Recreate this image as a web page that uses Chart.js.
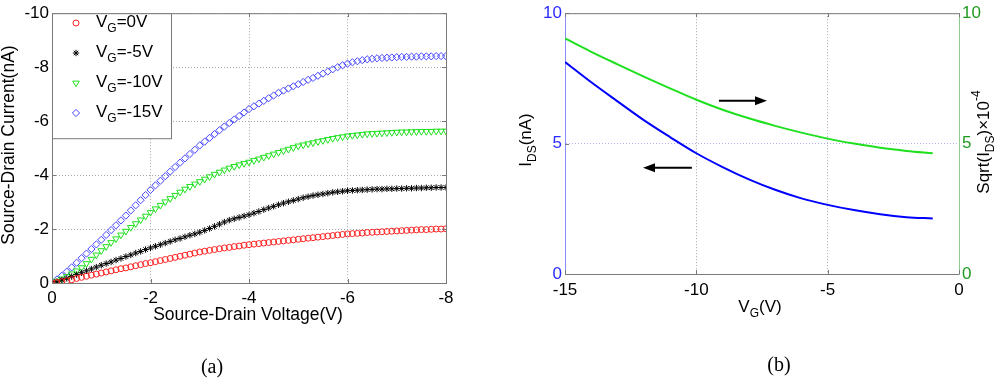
<!DOCTYPE html>
<html>
<head>
<meta charset="utf-8">
<script src="https://cdn.jsdelivr.net/npm/chart.js@4.4.1/dist/chart.umd.min.js"></script>
<style>
  html, body { margin: 0; padding: 0; background: #fff; }
  #wrap { position: relative; width: 1000px; height: 379px; }
  canvas { position: absolute; top: 0; }
  #ivChart { left: 0; }
  #tfChart { left: 500px; }
</style>
</head>
<body>
<div id="wrap">
  <canvas id="ivChart" width="500" height="379"></canvas>
  <canvas id="tfChart" width="500" height="379"></canvas>
</div>
<script>
  /* ---------- data: panel (a), output curves ---------- */
  const vds = [0,-0.1,-0.2,-0.3,-0.4,-0.5,-0.6,-0.7,-0.8,-0.9,-1,-1.1,-1.2,-1.3,-1.4,-1.5,-1.6,-1.7,-1.8,-1.9,
    -2,-2.1,-2.2,-2.3,-2.4,-2.5,-2.6,-2.7,-2.8,-2.9,-3,-3.1,-3.2,-3.3,-3.4,-3.5,-3.6,-3.7,-3.8,-3.9,
    -4,-4.1,-4.2,-4.3,-4.4,-4.5,-4.6,-4.7,-4.8,-4.9,-5,-5.1,-5.2,-5.3,-5.4,-5.5,-5.6,-5.7,-5.8,-5.9,
    -6,-6.1,-6.2,-6.3,-6.4,-6.5,-6.6,-6.7,-6.8,-6.9,-7,-7.1,-7.2,-7.3,-7.4,-7.5,-7.6,-7.7,-7.8,-7.9,-8];

  const idVg0 = [0,-0.02,-0.05,-0.08,-0.12,-0.17,-0.21,-0.25,-0.29,-0.33,-0.37,-0.41,-0.45,-0.49,-0.53,-0.56,-0.60,-0.64,-0.68,-0.72,
    -0.75,-0.79,-0.83,-0.87,-0.91,-0.95,-0.99,-1.03,-1.07,-1.11,-1.15,-1.18,-1.21,-1.24,-1.27,-1.30,-1.32,-1.35,-1.37,-1.40,
    -1.42,-1.44,-1.46,-1.48,-1.50,-1.52,-1.54,-1.56,-1.58,-1.60,-1.62,-1.64,-1.66,-1.68,-1.70,-1.72,-1.74,-1.76,-1.78,-1.80,
    -1.82,-1.83,-1.84,-1.85,-1.87,-1.88,-1.89,-1.90,-1.91,-1.92,-1.93,-1.94,-1.95,-1.96,-1.97,-1.98,-1.98,-1.99,-2.00,-2.00,-2.01];

  const idVg5 = [0,-0.05,-0.11,-0.17,-0.24,-0.31,-0.38,-0.45,-0.52,-0.59,-0.66,-0.72,-0.78,-0.85,-0.91,-0.98,-1.04,-1.11,-1.17,-1.24,
    -1.30,-1.36,-1.42,-1.48,-1.54,-1.60,-1.65,-1.71,-1.77,-1.82,-1.88,-1.95,-2.02,-2.10,-2.18,-2.26,-2.33,-2.38,-2.43,-2.48,
    -2.53,-2.59,-2.65,-2.72,-2.78,-2.84,-2.90,-2.96,-3.01,-3.06,-3.11,-3.16,-3.20,-3.24,-3.27,-3.30,-3.33,-3.36,-3.38,-3.40,
    -3.42,-3.43,-3.44,-3.45,-3.46,-3.47,-3.48,-3.48,-3.49,-3.49,-3.50,-3.50,-3.51,-3.51,-3.52,-3.52,-3.53,-3.53,-3.54,-3.54,-3.54];

  const idVg10 = [0,-0.07,-0.15,-0.24,-0.34,-0.45,-0.57,-0.72,-0.88,-1.04,-1.20,-1.35,-1.50,-1.64,-1.78,-1.92,-2.06,-2.20,-2.34,-2.48,
    -2.62,-2.75,-2.88,-3.01,-3.13,-3.25,-3.37,-3.48,-3.58,-3.67,-3.76,-3.85,-3.94,-4.03,-4.11,-4.19,-4.26,-4.32,-4.38,-4.43,
    -4.48,-4.54,-4.60,-4.66,-4.72,-4.78,-4.84,-4.90,-4.96,-5.02,-5.08,-5.12,-5.16,-5.20,-5.24,-5.28,-5.32,-5.36,-5.39,-5.42,
    -5.45,-5.47,-5.49,-5.51,-5.53,-5.54,-5.55,-5.56,-5.57,-5.58,-5.59,-5.60,-5.60,-5.61,-5.61,-5.62,-5.62,-5.62,-5.63,-5.63,-5.63];

  const idVg15 = [0,-0.13,-0.27,-0.42,-0.58,-0.75,-0.92,-1.09,-1.26,-1.43,-1.60,-1.78,-1.96,-2.14,-2.32,-2.50,-2.69,-2.88,-3.07,-3.26,
    -3.45,-3.62,-3.79,-3.96,-4.13,-4.30,-4.46,-4.62,-4.78,-4.94,-5.10,-5.24,-5.38,-5.52,-5.66,-5.80,-5.93,-6.06,-6.19,-6.32,
    -6.45,-6.55,-6.65,-6.75,-6.85,-6.95,-7.05,-7.13,-7.21,-7.29,-7.37,-7.45,-7.53,-7.60,-7.68,-7.76,-7.84,-7.92,-8.00,-8.07,
    -8.13,-8.18,-8.22,-8.26,-8.29,-8.31,-8.33,-8.34,-8.35,-8.36,-8.37,-8.38,-8.38,-8.39,-8.39,-8.40,-8.40,-8.40,-8.41,-8.41,-8.41];

  const seriesA = ['V_G=0V', 'V_G=-5V', 'V_G=-10V', 'V_G=-15V'];

  /* ---------- data: panel (b), transfer curve ---------- */
  const vg = [-15,-14,-13,-12,-11,-10,-9,-8,-7,-6,-5,-4,-3,-2,-1];
  const ids = [8.13,7.35,6.62,5.90,5.25,4.63,4.10,3.63,3.23,2.90,2.65,2.45,2.29,2.18,2.13];
  const sqrtIds = [9.03,8.52,8.04,7.57,7.12,6.68,6.30,5.97,5.68,5.42,5.19,5.00,4.84,4.72,4.63];
  // arrows in data units of the left axis: [xFrom, xTo, y]
  const arrowsB = [[-10.17, -12.03, 4.07], [-9.14, -7.31, 6.64]];

  const FONT = '"Liberation Sans", Arial, sans-serif';
  const tickFont = { family: FONT, size: 17 };

  // text with sub/superscripts: parts = [[text, 0|1|2]], 1 = sub, 2 = sup
  function richText(ctx, parts, x, y, size, opts = {}) {
    ctx.save();
    ctx.translate(x, y);
    if (opts.rot) ctx.rotate(opts.rot);
    ctx.fillStyle = opts.color || '#000';
    ctx.textBaseline = 'middle';
    ctx.textAlign = 'left';
    const fonts = parts.map(p => (p[1] ? Math.round(size * 0.72) : size) + 'px ' + FONT);
    let w = 0;
    parts.forEach((p, i) => { ctx.font = fonts[i]; w += ctx.measureText(p[0]).width; });
    let cx = opts.left ? 0 : -w / 2;
    parts.forEach((p, i) => {
      ctx.font = fonts[i];
      const dy = p[1] === 1 ? size * 0.38 : p[1] === 2 ? -size * 0.42 : 0;
      ctx.fillText(p[0], cx, dy);
      cx += ctx.measureText(p[0]).width;
    });
    ctx.restore();
  }

  function innerTicks(ctx, chart, color, sides) {
    const a = chart.chartArea, sx = chart.scales.x, sy = chart.scales.y;
    ctx.save();
    ctx.strokeStyle = color;
    ctx.lineWidth = 1;
    ctx.beginPath();
    sx.ticks.forEach(t => {
      const p = Math.round(sx.getPixelForValue(t.value)) + 0.5;
      ctx.moveTo(p, a.bottom); ctx.lineTo(p, a.bottom - 4);
      if (sides.top) { ctx.moveTo(p, a.top); ctx.lineTo(p, a.top + 4); }
    });
    sy.ticks.forEach(t => {
      const p = Math.round(sy.getPixelForValue(t.value)) + 0.5;
      ctx.moveTo(a.left, p); ctx.lineTo(a.left + 4, p);
      if (sides.right) { ctx.moveTo(a.right, p); ctx.lineTo(a.right - 4, p); }
    });
    ctx.stroke();
    ctx.restore();
  }

  Chart.defaults.font.family = FONT;
  Chart.defaults.color = '#000';

  /* ---------- panel (a) ---------- */
  const markA = [
    { color: '#ff2020', style: 'circle', radius: 3, rotation: 0, data: idVg0 },
    { color: '#000000', style: 'star', radius: 3.2, rotation: 0, data: idVg5 },
    { color: '#20e020', style: 'triangle', radius: 3.8, rotation: 180, data: idVg10 },
    { color: '#4646ff', style: 'rectRot', radius: 3.6, rotation: 0, data: idVg15 }
  ];

  const frameA = {
    id: 'frameA',
    afterDraw(chart) {
      const ctx = chart.ctx, a = chart.chartArea;
      ctx.save();
      ctx.strokeStyle = '#7a7a7a';
      ctx.lineWidth = 1;
      ctx.strokeRect(a.left + 0.5, a.top + 0.5, a.right - a.left, a.bottom - a.top);
      ctx.restore();
      innerTicks(ctx, chart, '#7a7a7a', { top: true, right: true });

      // legend
      const lx = a.left, ly = a.top, lw = 119, lh = 125;
      ctx.save();
      ctx.fillStyle = '#fff';
      ctx.fillRect(lx + 0.5, ly + 0.5, lw, lh);
      ctx.strokeStyle = '#7a7a7a';
      ctx.strokeRect(lx + 0.5, ly + 0.5, lw, lh);
      ctx.restore();
      const rowY = [23, 53, 83, 113];
      markA.forEach((m, i) => {
        ctx.save();
        ctx.strokeStyle = m.color;
        ctx.fillStyle = 'rgba(0,0,0,0)';
        ctx.lineWidth = 1;
        Chart.helpers.drawPoint(ctx, { pointStyle: m.style, radius: m.radius, rotation: m.rotation, borderWidth: 1 }, 76, rowY[i]);
        ctx.restore();
        const lab = seriesA[i].split('_');
        const rest = lab[1].slice(1);
        richText(ctx, [[lab[0], 0], ['G', 1], [rest, 0]], 96, rowY[i] - 1, 17, { left: true });
      });

      richText(ctx, [['Source-Drain Current(nA)', 0]], 9, 145, 17.5, { rot: -Math.PI / 2 });
      richText(ctx, [['Source-Drain Voltage(V)', 0]], 248, 315, 17.5);
      ctx.save();
      ctx.fillStyle = '#000';
      ctx.font = '20px "Liberation Serif", "Times New Roman", serif';
      ctx.textAlign = 'center';
      ctx.textBaseline = 'middle';
      ctx.fillText('(a)', 212, 368);
      ctx.restore();
    }
  };

  new Chart(document.getElementById('ivChart'), {
    type: 'line',
    data: {
      datasets: markA.map((m, i) => ({
        label: seriesA[i],
        data: vds.map((v, k) => ({ x: v, y: m.data[k] })),
        showLine: false,
        pointStyle: m.style,
        pointRotation: m.rotation,
        pointRadius: m.radius,
        pointBorderColor: m.color,
        pointBackgroundColor: 'rgba(0,0,0,0)',
        pointBorderWidth: 1
      }))
    },
    options: {
      responsive: false, animation: false, devicePixelRatio: 1,
      layout: { padding: { left: 0, top: 6, right: 54, bottom: 66 } },
      plugins: { legend: { display: false }, tooltip: { enabled: false } },
      scales: {
        x: {
          type: 'linear', min: -8, max: 0, reverse: true,
          afterFit: s => { s.height = 30; },
          ticks: { stepSize: 2, font: tickFont, color: '#000', padding: 5, maxRotation: 0 },
          grid: { color: '#a8a8a8', drawTicks: false },
          border: { color: '#7a7a7a', dash: [1, 2] }
        },
        y: {
          type: 'linear', min: -10, max: 0, reverse: true,
          afterFit: s => { s.width = 52; },
          ticks: { stepSize: 2, font: tickFont, color: '#000', padding: 3 },
          grid: { color: '#a8a8a8', drawTicks: false },
          border: { color: '#7a7a7a', dash: [1, 2] }
        }
      }
    },
    plugins: [frameA]
  });

  /* ---------- panel (b) ---------- */
  const frameB = {
    id: 'frameB',
    afterDraw(chart) {
      const ctx = chart.ctx, a = chart.chartArea, sx = chart.scales.x, sy = chart.scales.y;
      ctx.save();
      ctx.strokeStyle = '#7a7a7a';
      ctx.lineWidth = 1;
      ctx.beginPath();
      ctx.moveTo(a.left, a.top + 0.5); ctx.lineTo(a.right, a.top + 0.5);
      ctx.stroke();
      ctx.restore();
      innerTicks(ctx, chart, '#7a7a7a', { top: true, right: false });

      // arrows
      arrowsB.forEach(([x0, x1, yv]) => {
        const px0 = sx.getPixelForValue(x0), px1 = sx.getPixelForValue(x1), py = sy.getPixelForValue(yv);
        const dir = Math.sign(px1 - px0);
        ctx.save();
        ctx.strokeStyle = '#000';
        ctx.fillStyle = '#000';
        ctx.lineWidth = 2;
        ctx.beginPath();
        ctx.moveTo(px0, py); ctx.lineTo(px1 - dir * 8, py);
        ctx.stroke();
        ctx.beginPath();
        ctx.moveTo(px1, py);
        ctx.lineTo(px1 - dir * 12, py - 4.5);
        ctx.lineTo(px1 - dir * 12, py + 4.5);
        ctx.closePath();
        ctx.fill();
        ctx.restore();
      });

      richText(ctx, [['I', 0], ['DS', 1], ['(nA)', 0]], 26, 140, 17, { rot: -Math.PI / 2 });
      richText(ctx, [['Sqrt(I', 0], ['DS', 1], [')\u00d710', 0], ['-4', 2]], 484, 142, 17, { rot: -Math.PI / 2 });
      richText(ctx, [['V', 0], ['G', 1], ['(V)', 0]], 260, 307, 17);
      ctx.save();
      ctx.fillStyle = '#000';
      ctx.font = '20px "Liberation Serif", "Times New Roman", serif';
      ctx.textAlign = 'center';
      ctx.textBaseline = 'middle';
      ctx.fillText('(b)', 279, 366);
      ctx.restore();
    }
  };

  new Chart(document.getElementById('tfChart'), {
    type: 'line',
    data: {
      datasets: [
        {
          label: 'IDS', yAxisID: 'y',
          data: vg.map((v, k) => ({ x: v, y: ids[k] })),
          borderColor: '#0000ff', borderWidth: 2, pointRadius: 0,
          cubicInterpolationMode: 'monotone', fill: false
        },
        {
          label: 'sqrt(IDS)', yAxisID: 'y1',
          data: vg.map((v, k) => ({ x: v, y: sqrtIds[k] })),
          borderColor: '#1fe01f', borderWidth: 2, pointRadius: 0,
          cubicInterpolationMode: 'monotone', fill: false
        }
      ]
    },
    options: {
      responsive: false, animation: false, devicePixelRatio: 1,
      layout: { padding: { left: 0, top: 6, right: 0, bottom: 75 } },
      plugins: { legend: { display: false }, tooltip: { enabled: false } },
      scales: {
        x: {
          type: 'linear', min: -15, max: 0,
          afterFit: s => { s.height = 30; },
          ticks: { stepSize: 5, font: tickFont, color: '#000', padding: 6, maxRotation: 0 },
          grid: { color: '#a8a8a8', drawTicks: false },
          border: { color: '#7a7a7a', dash: [1, 2] }
        },
        y: {
          type: 'linear', position: 'left', min: 0, max: 10,
          afterFit: s => { s.width = 65; },
          ticks: { stepSize: 5, font: tickFont, color: '#2a2aff', padding: 3 },
          grid: { color: '#b0b0f0', drawTicks: false },
          border: { color: '#8c8cff', dash: [1, 2] }
        },
        y1: {
          type: 'linear', position: 'right', min: 0, max: 10,
          afterFit: s => { s.width = 41; },
          ticks: { stepSize: 5, font: tickFont, color: '#1f9a1f', padding: 3 },
          grid: { display: false, drawTicks: false },
          border: { color: '#8ccc8c' }
        }
      }
    },
    plugins: [frameB]
  });
</script>
</body>
</html>
